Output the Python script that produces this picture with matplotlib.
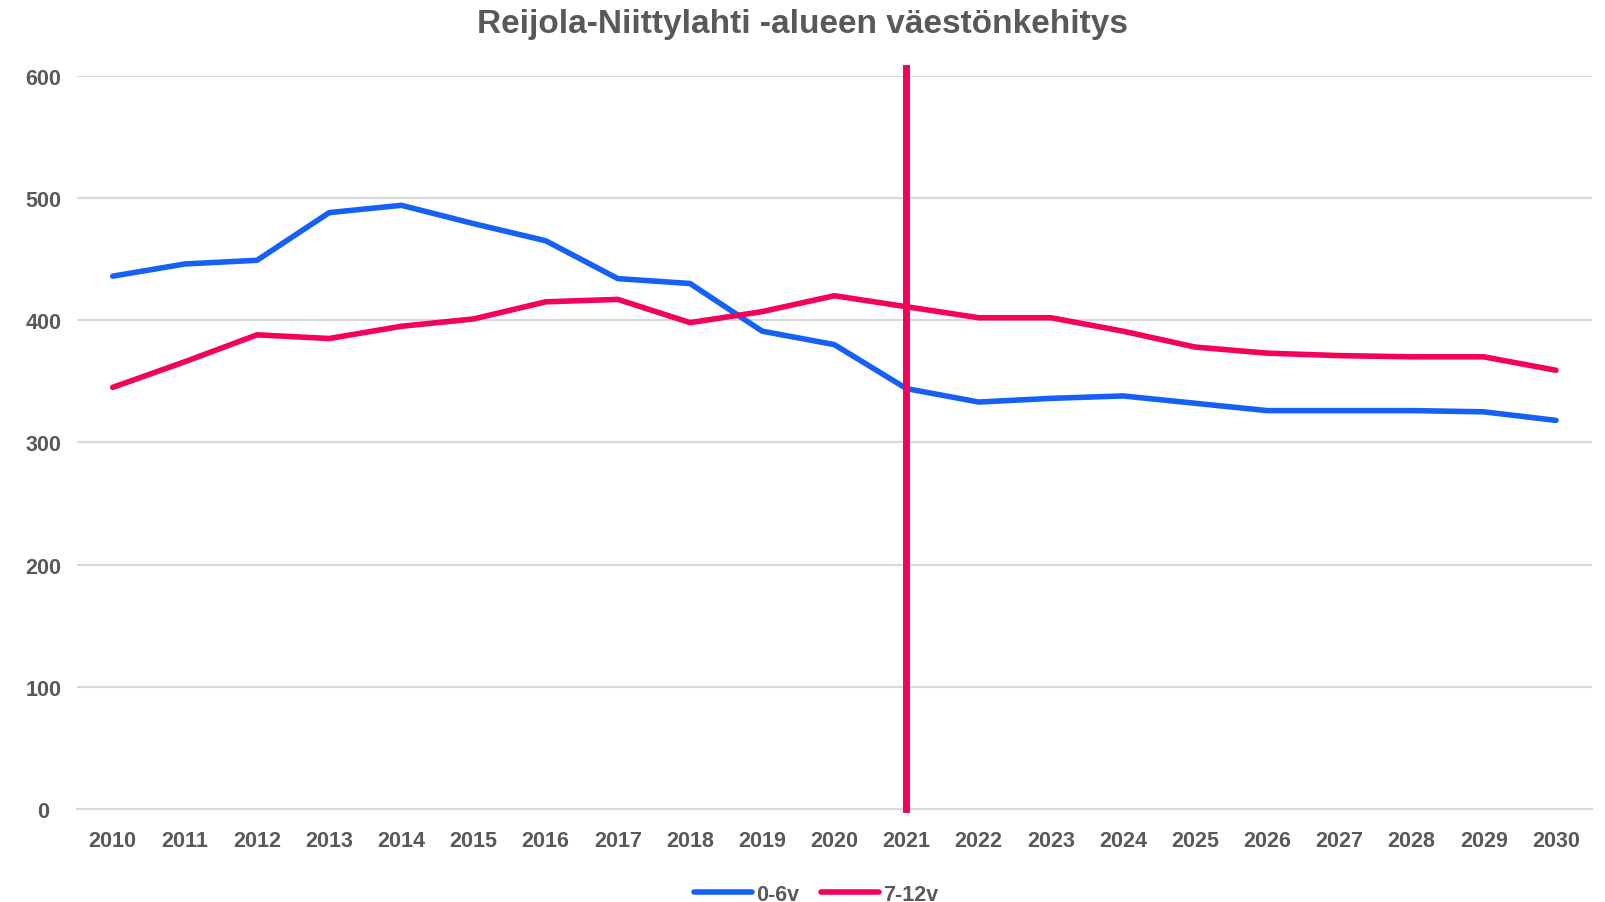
import matplotlib.pyplot as plt

# data
years = [str(y) for y in range(2010, 2031)]
kids_0_6 = [436, 446, 449, 488, 494, 479, 465, 434, 430, 391, 380,
            344, 333, 336, 338, 332, 326, 326, 326, 325, 318]
kids_7_12 = [345, 366, 388, 385, 395, 401, 415, 417, 398, 407, 420,
             411, 402, 402, 391, 378, 373, 371, 370, 370, 359]
marker_year = '2021'
marker_top = 606

blue = '#1560F5'
red = '#F5005A'
text_gray = '#595959'

plt.rcParams['font.family'] = ['Liberation Sans Narrow', 'Liberation Sans', 'DejaVu Sans']
plt.rcParams['font.weight'] = 'bold'

fig = plt.figure(figsize=(16.06, 9.03), dpi=100, facecolor='white')
ax = fig.add_axes([0.0477, 0.103, 0.9436, 0.812])

x = list(range(len(years)))
ax.plot(x, kids_0_6, color=blue, linewidth=4, label='0-6v',
        solid_capstyle='round', solid_joinstyle='round', zorder=3)
ax.plot(x, kids_7_12, color=red, linewidth=4, label='7-12v',
        solid_capstyle='round', solid_joinstyle='round', zorder=3)

# vertical marker for the forecast start
mx = years.index(marker_year)
ax.plot([mx, mx], [0, marker_top], color=red, linewidth=5, clip_on=False, zorder=4)

ax.set_xlim(-0.5, len(years) - 0.5)
ax.set_ylim(0, 600)
ax.set_xticks(x)
ax.set_xticklabels(years)
ax.set_yticks(range(0, 601, 100))

ax.grid(axis='y', color='#D9D9D9', linewidth=1.5)
ax.set_axisbelow(True)
for side in ['top', 'right', 'left']:
    ax.spines[side].set_visible(False)
ax.spines['bottom'].set_color('#D9D9D9')
ax.spines['bottom'].set_linewidth(1.5)

ax.tick_params(axis='both', length=0, colors=text_gray, labelsize=15.5)
ax.tick_params(axis='x', pad=15)
ax.tick_params(axis='y', pad=24)
for lbl in ax.get_xticklabels() + ax.get_yticklabels():
    lbl.set_fontweight('bold')
for lbl in ax.get_yticklabels():
    lbl.set_horizontalalignment('center')

fig.suptitle('Reijola-Niittylahti -alueen väestönkehitys', x=0.5, y=0.99,
             fontsize=24, fontweight='bold', color=text_gray)

leg = ax.legend(loc='lower center', bbox_to_anchor=(0.488, -0.148), ncol=2,
                frameon=False, fontsize=15.5, handlelength=2.7, handletextpad=0.2,
                columnspacing=1.0, borderaxespad=0.2)
for t in leg.get_texts():
    t.set_color(text_gray)
    t.set_fontweight('bold')

fig.savefig('out.png', dpi=100, facecolor='white')
